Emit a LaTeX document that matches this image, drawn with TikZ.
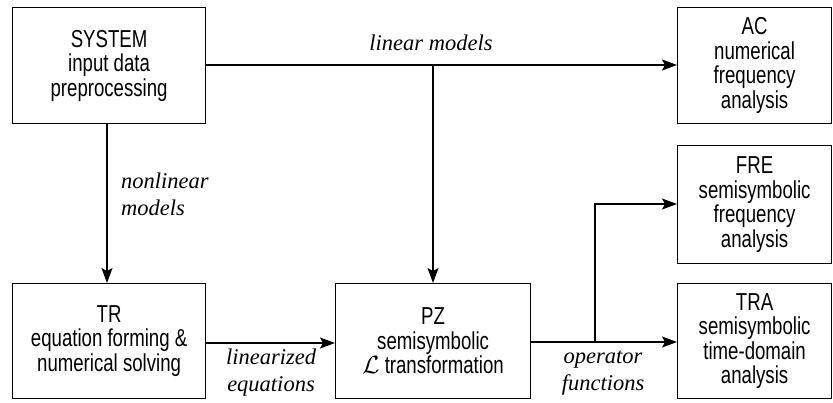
\documentclass[tikz,border=0pt]{standalone}
\usepackage{fontspec}
\setmainfont{Liberation Sans}[FakeStretch=0.76]
\newfontfamily\lblfont{Liberation Serif}
\usetikzlibrary{arrows.meta}
\begin{document}
\begin{tikzpicture}[x=1pt,y=-1pt,
  blk/.style={draw,line width=1.2pt,inner sep=0pt,anchor=north west,
    align=center,font=\fontsize{24.5}{24.5}\selectfont},
  lbl/.style={font=\lblfont\itshape\fontsize{22.5}{27}\selectfont,inner sep=0pt},
  conn/.style={line width=1.2pt,-{Stealth[length=15pt,width=11pt,inset=3pt]}}]
\useasboundingbox (0,0) rectangle (833,402);
% blocks
\node[blk,minimum width=193pt,minimum height=116pt] (sys) at (12,7)
  {SYSTEM\\input data\\preprocessing};
\node[blk,minimum width=154pt,minimum height=116pt] (ac) at (677,7)
  {AC\\numerical\\frequency\\analysis};
\node[blk,minimum width=154pt,minimum height=118pt] (fre) at (677,145)
  {FRE\\semisymbolic\\frequency\\analysis};
\node[blk,minimum width=193pt,minimum height=115pt] (tr) at (12,283)
  {TR\\equation forming \&\\numerical solving};
\node[blk,minimum width=195pt,minimum height=115pt] (pz) at (335,283)
  {PZ\\semisymbolic\\$\mathcal{L}$ transformation};
\node[blk,minimum width=154pt,minimum height=115pt] (tra) at (677,283)
  {TRA\\semisymbolic\\time-domain\\analysis};
% connectors
\coordinate (lin) at (433,65);
\coordinate (opf) at (595,342);
\draw[conn] (sys.east |- lin) -- (ac.west |- lin);
\draw[conn] (lin) -- (pz.north -| lin);
\draw[conn] (sys.south -| 107,0) -- (tr.north -| 107,0);
\draw[conn] (tr.east |- 0,343) -- (pz.west |- 0,343);
\draw[conn] (pz.east |- opf) -- (tra.west |- opf);
\draw[conn] (opf) |- (fre.west |- 0,204);
% labels
\node[lbl] (llin) at (431,43) {linear models};
\node[lbl,align=left,anchor=west] (lnon) at (121,194) {nonlinear\\models};
\node[lbl,align=center] (lleq) at (271,373) {linearized\\equations};
\node[lbl,align=center] (lopf) at (603,373) {operator\\functions};
\end{tikzpicture}
\end{document}
